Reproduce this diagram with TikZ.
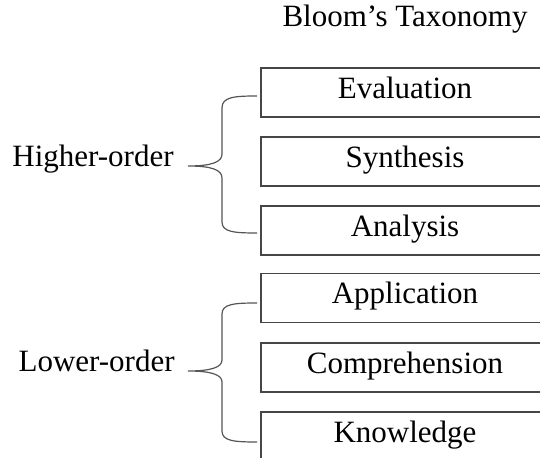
\documentclass[tikz,border=0pt]{standalone}
\usepackage{fontspec}
\setmainfont{Liberation Serif}
\usepackage{tikz}
\usetikzlibrary{calc}
\tikzstyle{level} = [draw={rgb,255:red,70;green,70;blue,70}, line width=0.8pt, minimum width=144pt, minimum height=24.5pt, text height=10pt, text depth=4pt, inner sep=0pt, font=\fontsize{15.5}{18}\selectfont]
\tikzstyle{brace} = [draw={rgb,255:red,85;green,85;blue,85}, line width=0.6pt]
\tikzstyle{label} = [inner sep=0pt, font=\fontsize{15.5}{18}\selectfont]

\begin{document}
\begin{tikzpicture}[x=0.5pt,y=0.5pt,yscale=-1,xscale=1]
\useasboundingbox (0,0) rectangle (540,458);
\clip (0,0) rectangle (540,458);

% Text Node
\node (title) [label, anchor=base] at (405,27) {Bloom’s Taxonomy};

% Level boxes
\node (eval) [level] at (405,92.5) {Evaluation};
\node (synth) [level] at (405,161.5) {Synthesis};
\node (anal) [level] at (405,230.5) {Analysis};
\node (appl) [level] at (405,298) {Application};
\node (compr) [level] at (405,367.5) {Comprehension};
\node (know) [level] at (405,436.5) {Knowledge};

%Shape: Brace (higher)
\draw [brace] (257,96) .. controls (234,96) and (222,97) .. (222,108) -- (222,154) .. controls (222,162) and (212,166) .. (188,166) .. controls (212,166) and (222,170) .. (222,178) -- (222,222) .. controls (222,232) and (234,233) .. (257,233);
%Shape: Brace (lower)
\draw [brace] (257,303) .. controls (234,303) and (222,304) .. (222,314) -- (222,360) .. controls (222,367) and (212,371) .. (188,371) .. controls (212,371) and (222,375) .. (222,382) -- (222,431) .. controls (222,441) and (234,442) .. (257,442);

% Text Node
\node (higher) [label, anchor=base east] at (174,166.5) {Higher-order};
% Text Node
\node (lower) [label, anchor=base east] at (175,372) {Lower-order};

\end{tikzpicture}
\end{document}
